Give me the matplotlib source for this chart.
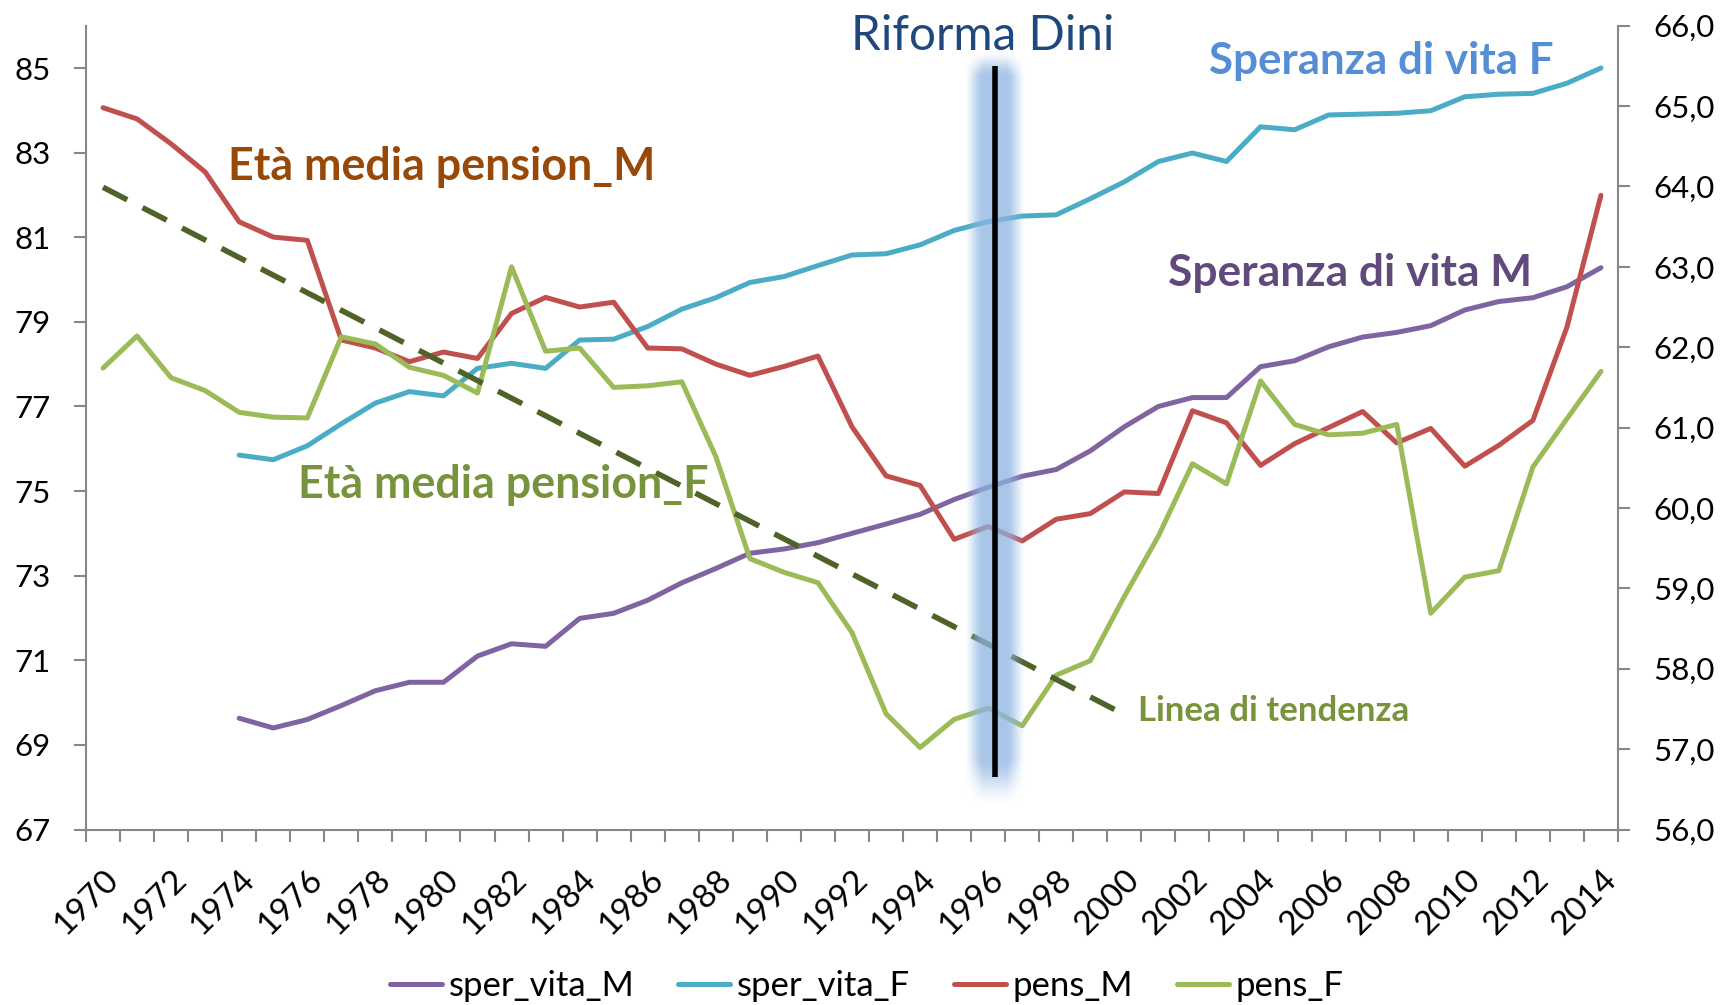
import numpy as np
import matplotlib
matplotlib.use("Agg")
import matplotlib.pyplot as plt

nan = np.nan

# --- dati ---
years = list(range(1970, 2015))

sper_vita_M = [nan, nan, nan, nan,
               69.63, 69.40, 69.60, 69.93, 70.28, 70.48, 70.48, 71.10, 71.39, 71.33,
               71.99, 72.11, 72.42, 72.83, 73.17, 73.53, 73.63, 73.78, 74.00, 74.22,
               74.45, 74.80, 75.09, 75.35, 75.51, 75.95, 76.52, 77.00, 77.21, 77.21,
               77.94, 78.08, 78.41, 78.64, 78.75, 78.91, 79.28, 79.48, 79.57, 79.83, 80.28]

sper_vita_F = [nan, nan, nan, nan,
               75.85, 75.74, 76.07, 76.59, 77.08, 77.35, 77.25, 77.90, 78.02, 77.90,
               78.57, 78.59, 78.89, 79.30, 79.57, 79.93, 80.07, 80.33, 80.58, 80.61,
               80.82, 81.16, 81.37, 81.50, 81.53, 81.91, 82.31, 82.79, 82.99, 82.79,
               83.61, 83.54, 83.89, 83.91, 83.93, 83.99, 84.32, 84.38, 84.40, 84.64, 85.00]

pens_M = [64.98, 64.84, 64.53, 64.18, 63.56, 63.37, 63.33, 62.09, 61.99, 61.82,
          61.94, 61.86, 62.42, 62.62, 62.50, 62.56, 61.99, 61.98, 61.79, 61.65,
          61.76, 61.89, 61.01, 60.40, 60.28, 59.61, 59.77, 59.59, 59.86, 59.93,
          60.20, 60.18, 61.21, 61.06, 60.53, 60.80, 61.00, 61.20, 60.81, 60.99,
          60.52, 60.78, 61.09, 62.25, 63.89]

pens_F = [61.74, 62.14, 61.62, 61.46, 61.19, 61.13, 61.12, 62.13, 62.04, 61.75,
          61.65, 61.43, 63.00, 61.95, 61.99, 61.50, 61.52, 61.57, 60.64, 59.37,
          59.20, 59.07, 58.45, 57.44, 57.02, 57.37, 57.51, 57.29, 57.92, 58.10,
          58.90, 59.65, 60.55, 60.30, 61.58, 61.04, 60.91, 60.93, 61.04, 58.69,
          59.14, 59.22, 60.51, 61.11, 61.70]

# linea di tendenza (asse destro) e riforma Dini
trend_years = [1970, 2000]
trend_vals = [63.99, 57.43]
dini_year = 1996.2
dini_range = [56.65, 65.50]

left_ticks = list(range(67, 86, 2))
right_ticks = list(range(56, 67))
label_years = [y for y in years if y % 2 == 0]

# --- figura ---
W, H = 1724, 1005
plt.rcParams['font.family'] = ['Lato', 'DejaVu Sans']
fig = plt.figure(figsize=(W / 100, H / 100), dpi=100)

x_l, x_r, y_t, y_b = 86, 1618, 25.7, 829.5
ax = fig.add_axes([x_l / W, 1 - y_b / H, (x_r - x_l) / W, (y_b - y_t) / H])
ax2 = ax.twinx()

grey = '#868686'
lw = 3.6

l1, = ax.plot(years, sper_vita_M, color='#8064A2', lw=lw, label='sper_vita_M',
              solid_capstyle='round', solid_joinstyle='round')
l2, = ax.plot(years, sper_vita_F, color='#4BACC6', lw=lw, label='sper_vita_F',
              solid_capstyle='round', solid_joinstyle='round')
l3, = ax2.plot(years, pens_M, color='#C0504D', lw=lw, label='pens_M',
               solid_capstyle='round', solid_joinstyle='round')
l4, = ax2.plot(years, pens_F, color='#9BBB59', lw=lw, label='pens_F',
               solid_capstyle='round', solid_joinstyle='round')
ax2.plot(trend_years, trend_vals, color='#4F6228', lw=4.0,
         ls=(0, (4.9, 3.1)), dash_capstyle='butt')

# assi
ax.set_xlim(1969.5, 2014.5)
ax.set_ylim(67, 86)
ax2.set_ylim(56, 66)
ax.set_yticks(left_ticks)
ax.set_yticklabels([str(v) for v in left_ticks])
ax2.set_yticks(right_ticks)
ax2.set_yticklabels([f"{v:.1f}".replace('.', ',') for v in right_ticks])

ax.set_xticks(np.arange(1969.5, 2015, 1.0))
ax.set_xticklabels([])
ax.set_xticks(label_years, minor=True)
ax.set_xticklabels([str(y) for y in label_years], minor=True)
ax.tick_params(axis='x', which='major', length=8.4, width=1.5, color=grey, direction='out')
ax.tick_params(axis='x', which='minor', length=0, pad=25, labelsize=24)
for lbl in ax.get_xticklabels(minor=True):
    lbl.set_rotation(45)
    lbl.set_ha('right')
    lbl.set_va('top')
    lbl.set_rotation_mode('anchor')

ax.tick_params(axis='y', length=8.4, width=1.5, color=grey, pad=17, labelsize=22.5)
ax2.tick_params(axis='y', length=8.4, width=1.5, color=grey, pad=17, labelsize=22.5)

for a in (ax, ax2):
    a.spines['top'].set_visible(False)
    for s in ('left', 'bottom', 'right'):
        a.spines[s].set_color(grey)
        a.spines[s].set_linewidth(1.5)
ax.spines['right'].set_visible(False)
ax2.spines['left'].set_visible(False)
ax2.spines['bottom'].set_visible(False)

# bagliore azzurro attorno alla linea della riforma
xd, yb = ax2.transData.transform((dini_year, dini_range[0]))
_, yt = ax2.transData.transform((dini_year, dini_range[1]))
xs = np.arange(xd - 36, xd + 37)
ys = np.arange(yb - 32, yt + 18)
X, Y = np.meshgrid(xs, ys)
ax_prof = np.clip((32 - np.abs(X - xd)) / 20, 0, 1)
top_prof = np.clip((yt + 16 - Y) / 26, 0, 1)
bot_prof = np.clip((Y - (yb - 30)) / 48, 0, 1)
alpha = ax_prof * top_prof * bot_prof
alpha = alpha * alpha * (3 - 2 * alpha) * 0.75
rgba = np.zeros(alpha.shape + (4,))
rgba[..., 0] = 141 / 255
rgba[..., 1] = 180 / 255
rgba[..., 2] = 226 / 255
rgba[..., 3] = alpha
inv = ax2.transData.inverted()
(ex0, ey0) = inv.transform((xs[0], ys[0]))
(ex1, ey1) = inv.transform((xs[-1], ys[-1]))
ax2.imshow(rgba, extent=(ex0, ex1, ey0, ey1), origin='lower', aspect='auto',
           zorder=5, interpolation='bilinear')
ax2.plot([dini_year, dini_year], dini_range, color='black', lw=4, zorder=6,
         solid_capstyle='butt')
ax.set_xlim(1969.5, 2014.5)
ax2.set_xlim(1969.5, 2014.5)
ax2.set_ylim(56, 66)

# testi
renderer = fig.canvas.get_renderer()


def put(s, x_left, baseline, width, color, weight='bold'):
    t = fig.text(x_left / W, 1 - baseline / H, s, color=color, fontweight=weight,
                 fontsize=30, ha='left', va='baseline')
    w = t.get_window_extent(renderer).width
    t.set_fontsize(30 * width / w)
    return t


put('Riforma Dini', 851, 50, 263, '#1F497D', weight='normal')
put('Età media pension_M', 228.5, 180, 427, '#984807')
put('Età media pension_F', 298.5, 498, 410, '#77933C')
put('Speranza di vita F', 1208.6, 74, 344, '#558ED5')
put('Speranza di vita M', 1167.6, 286, 363, '#604A7B')
put('Linea di tendenza', 1138, 721, 271, '#77933C')

fig.legend([l1, l2, l3, l4], ['sper_vita_M', 'sper_vita_F', 'pens_M', 'pens_F'],
           loc='center', bbox_to_anchor=(867 / W, 1 - 986 / H), ncol=4,
           frameon=False, fontsize=25, handlelength=1.5, handletextpad=0.2,
           columnspacing=1.25)

fig.savefig('out.png', dpi=100)
